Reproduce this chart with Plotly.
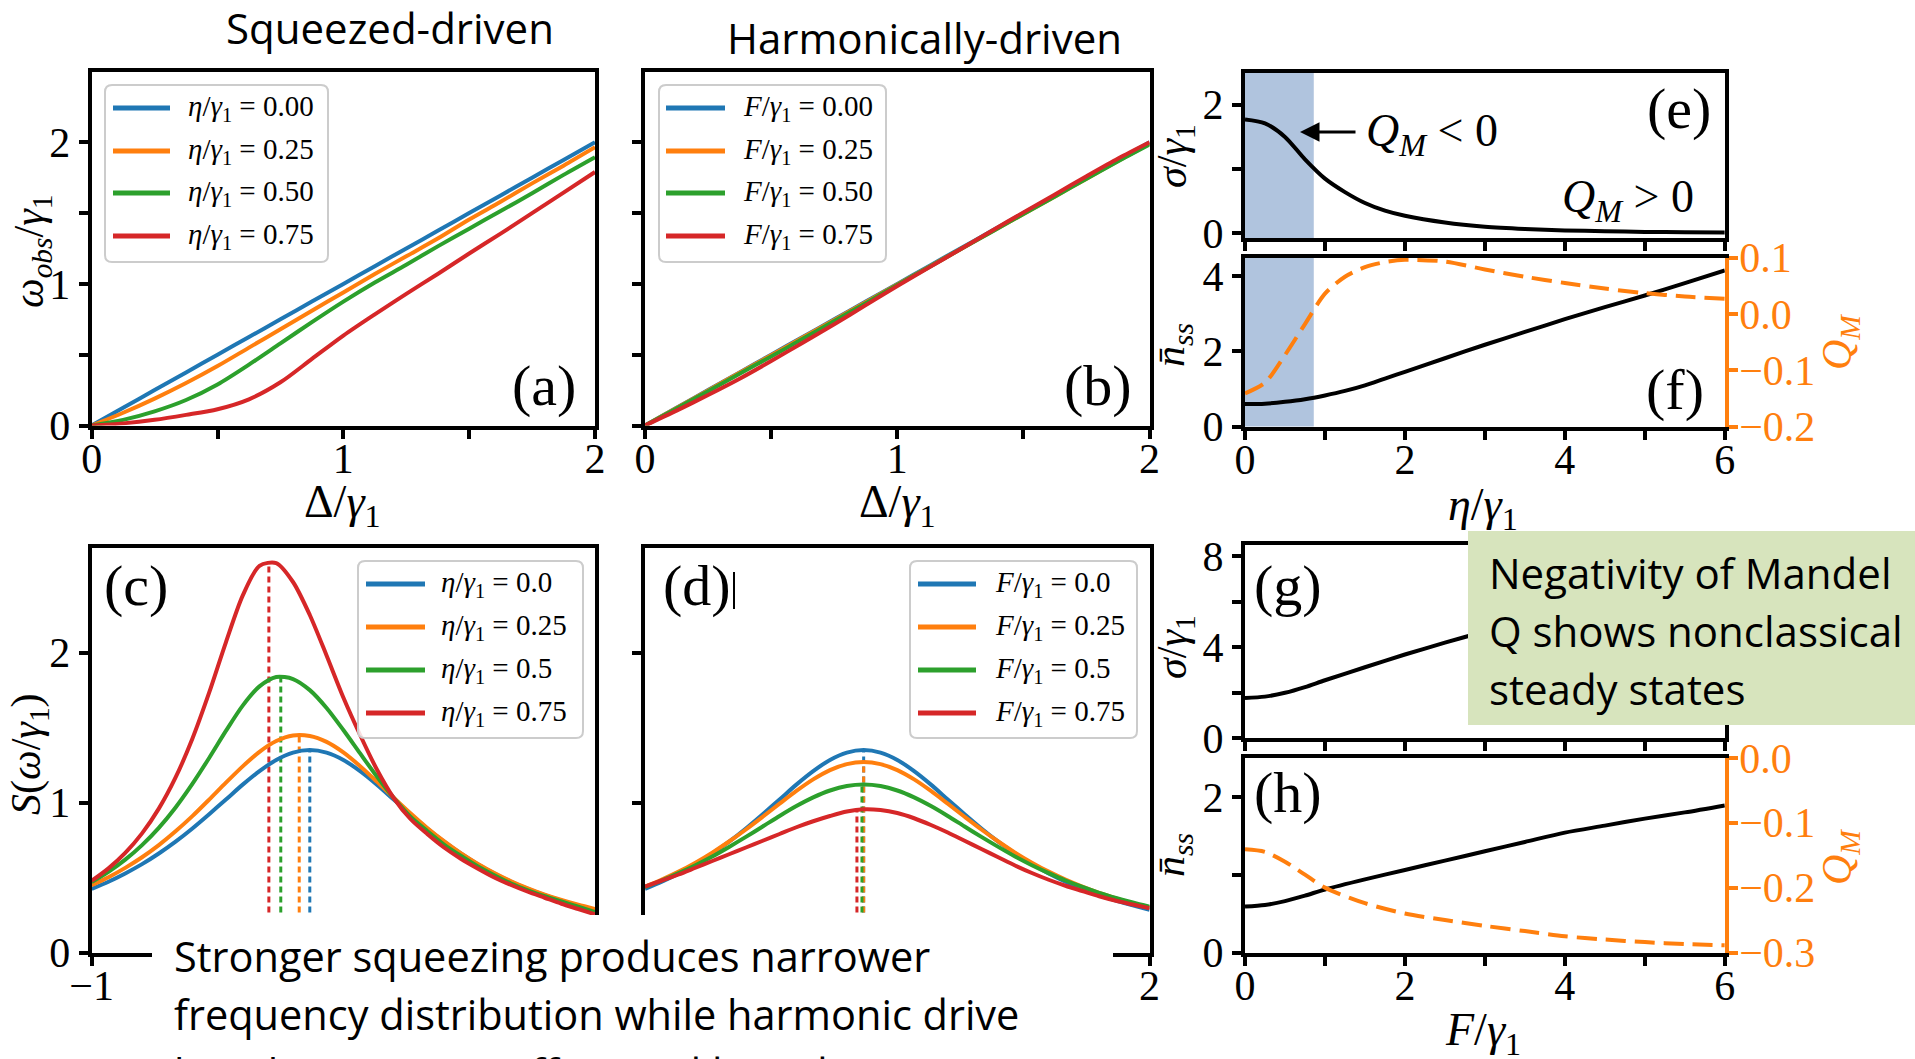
import plotly.graph_objects as go

W, H = 1915, 1059

# ------------------------------------------------------------------ data
# (a)/(b): observed frequency vs detuning
delta = [0.0, 0.125, 0.25, 0.375, 0.5, 0.625, 0.75, 0.875, 1.0,
         1.125, 1.25, 1.375, 1.5, 1.625, 1.75, 1.875, 2.0]
wobs_sq_000 = [0.0, 0.125, 0.25, 0.375, 0.5, 0.625, 0.75, 0.875, 1.0,
               1.125, 1.25, 1.375, 1.5, 1.625, 1.75, 1.875, 2.0]
wobs_sq_025 = [0.0, 0.09, 0.19, 0.30, 0.42, 0.55, 0.68, 0.81, 0.94,
               1.07, 1.195, 1.32, 1.455, 1.58, 1.71, 1.835, 1.965]
wobs_sq_050 = [0.0, 0.04, 0.10, 0.18, 0.29, 0.43, 0.58, 0.73, 0.875,
               1.01, 1.135, 1.265, 1.39, 1.515, 1.64, 1.77, 1.895]
wobs_sq_075 = [0.0, 0.015, 0.04, 0.075, 0.115, 0.185, 0.305, 0.47, 0.635,
               0.785, 0.93, 1.07, 1.215, 1.355, 1.50, 1.645, 1.79]
wobs_hd_000 = [0.0, 0.125, 0.25, 0.375, 0.5, 0.625, 0.75, 0.875, 1.0,
               1.125, 1.25, 1.375, 1.5, 1.625, 1.75, 1.875, 2.0]
wobs_hd_025 = [0.0, 0.124, 0.248, 0.372, 0.496, 0.621, 0.746, 0.871, 0.996,
               1.12, 1.245, 1.37, 1.494, 1.618, 1.743, 1.868, 1.99]
wobs_hd_050 = [0.0, 0.12, 0.242, 0.365, 0.488, 0.612, 0.738, 0.864, 0.992,
               1.118, 1.244, 1.369, 1.494, 1.618, 1.742, 1.866, 1.985]
wobs_hd_075 = [0.0, 0.105, 0.215, 0.33, 0.455, 0.585, 0.715, 0.85, 0.985,
               1.115, 1.245, 1.375, 1.505, 1.632, 1.76, 1.885, 2.0]

# (c)/(d): emission spectra
omega = [-1.0, -0.9, -0.8, -0.7, -0.6, -0.5, -0.4, -0.3, -0.2, -0.1, 0.0,
         0.1, 0.2, 0.3, 0.4, 0.5, 0.6, 0.7, 0.8, 0.9, 1.0,
         1.1, 1.2, 1.3, 1.4, 1.5, 1.6, 1.7, 1.8, 1.9, 2.0]
spec_00 = [0.424, 0.472, 0.527, 0.589, 0.660, 0.739, 0.827, 0.922, 1.020, 1.119, 1.209,
           1.284, 1.333, 1.350, 1.333, 1.284, 1.209, 1.119, 1.020, 0.922, 0.827,
           0.739, 0.660, 0.589, 0.527, 0.472, 0.424, 0.382, 0.346, 0.314, 0.285]
spec_sq_025 = [0.449, 0.502, 0.564, 0.635, 0.716, 0.808, 0.909, 1.019, 1.132, 1.241, 1.338,
               1.410, 1.447, 1.443, 1.404, 1.334, 1.242, 1.139, 1.032, 0.928, 0.830,
               0.742, 0.662, 0.592, 0.530, 0.475, 0.428, 0.386, 0.350, 0.318, 0.290]
spec_sq_050 = [0.470, 0.538, 0.619, 0.716, 0.831, 0.967, 1.124, 1.297, 1.477, 1.646, 1.774,
               1.837, 1.823, 1.749, 1.630, 1.483, 1.327, 1.173, 1.031, 0.905, 0.810,
               0.720, 0.645, 0.575, 0.515, 0.460, 0.415, 0.375, 0.340, 0.305, 0.270]
spec_sq_075 = [0.478, 0.561, 0.664, 0.794, 0.959, 1.167, 1.425, 1.732, 2.068, 2.379, 2.578,
               2.596, 2.470, 2.250, 1.980, 1.700, 1.450, 1.220, 1.030, 0.890, 0.790,
               0.700, 0.625, 0.560, 0.500, 0.450, 0.405, 0.365, 0.325, 0.290, 0.255]
spec_hd_025 = [0.439, 0.486, 0.539, 0.599, 0.666, 0.740, 0.820, 0.905, 0.992, 1.077, 1.154,
               1.216, 1.256, 1.270, 1.256, 1.216, 1.154, 1.077, 0.992, 0.905, 0.820,
               0.740, 0.666, 0.599, 0.539, 0.486, 0.439, 0.397, 0.361, 0.328, 0.300]
spec_hd_050 = [0.437, 0.480, 0.529, 0.582, 0.640, 0.704, 0.771, 0.840, 0.910, 0.976, 1.034,
               1.080, 1.110, 1.120, 1.110, 1.080, 1.034, 0.976, 0.910, 0.840, 0.771,
               0.704, 0.640, 0.582, 0.529, 0.480, 0.437, 0.398, 0.364, 0.333, 0.305]
spec_hd_075 = [0.440, 0.480, 0.520, 0.565, 0.610, 0.655, 0.700, 0.745, 0.790, 0.835, 0.875,
               0.910, 0.940, 0.955, 0.950, 0.930, 0.895, 0.850, 0.800, 0.745, 0.690,
               0.635, 0.580, 0.530, 0.485, 0.445, 0.410, 0.375, 0.345, 0.320, 0.295]
peak_sq_pos = [0.30, 0.237, 0.127, 0.056]
peak_hd_pos = [0.30, 0.30, 0.29, 0.26]

legend_ab = ["0.00", "0.25", "0.50", "0.75"]
legend_cd = ["0.0", "0.25", "0.5", "0.75"]

# (e)/(f): squeezed drive strength
eta = [0.0, 0.25, 0.5, 0.75, 1.0, 1.25, 1.5, 1.75, 2.0, 2.5, 3.0, 3.5, 4.0, 4.5, 5.0, 5.5, 6.0]
sigma_eta = [1.77, 1.71, 1.50, 1.15, 0.85, 0.64, 0.47, 0.35, 0.27, 0.165, 0.10,
             0.065, 0.043, 0.03, 0.02, 0.015, 0.01]
nss_eta = [0.60, 0.61, 0.66, 0.73, 0.83, 0.95, 1.10, 1.28, 1.46, 1.82, 2.18,
           2.52, 2.86, 3.18, 3.49, 3.82, 4.16]
qm_eta = [-0.141, -0.122, -0.073, -0.018, 0.036, 0.066, 0.083, 0.092, 0.096, 0.093, 0.079,
          0.066, 0.055, 0.045, 0.037, 0.031, 0.027]
qm_negative_until = 0.86

# (g)/(h): harmonic drive strength
force = [0.0, 0.25, 0.5, 0.75, 1.0, 1.5, 2.0, 2.5, 3.0, 3.5, 4.0, 4.5, 5.0, 5.5, 6.0]
sigma_force = [1.77, 1.83, 2.0, 2.25, 2.55, 3.12, 3.68, 4.2, 4.7, 5.2, 5.7, 6.2, 6.65, 7.1, 7.6]
nss_force = [0.59, 0.61, 0.66, 0.73, 0.81, 0.94, 1.06, 1.18, 1.30, 1.42, 1.54, 1.63, 1.72, 1.80, 1.89]
qm_force = [-0.141, -0.145, -0.160, -0.180, -0.200, -0.224, -0.240, -0.250, -0.259,
            -0.267, -0.275, -0.280, -0.284, -0.287, -0.289]

# ------------------------------------------------------------------ style
COLORS = ['#1f77b4', '#ff7f0e', '#2ca02c', '#d62728']
ORANGE = '#ff7f0e'
SHADE = '#b0c4de'
SERIF = 'Liberation Serif'
SANS = 'Open Sans'
TICK = dict(family=SERIF, size=42, color='black')


def px(x):
    return x / W


def py(y):
    return 1 - y / H


fig = go.Figure()


def curve(x, y, xa, ya, color, width=4, dash=None, spline=True):
    fig.add_trace(go.Scatter(
        x=x, y=y, mode='lines', xaxis=xa, yaxis=ya, showlegend=False, hoverinfo='skip',
        line=dict(color=color, width=width, dash=dash,
                  shape='spline' if spline else 'linear', smoothing=0.8)))


def axis(left_right, rng, tickvals, ticktext, anchor, labels=True, mirror=True,
         color='black', standoff=0):
    return dict(domain=list(left_right), range=rng, tickmode='array',
                tickvals=tickvals, ticktext=ticktext, showline=True, linecolor=color,
                linewidth=4, mirror=mirror, ticks='outside', ticklen=9, tickwidth=3.5,
                tickcolor=color, showgrid=False, zeroline=False, showticklabels=labels,
                tickfont=dict(TICK, color=color), anchor=anchor, fixedrange=True,
                automargin=False, ticklabelstandoff=standoff)


def xdom(l, r):
    return (px(l), px(r))


def ydom(top, bottom):
    return (py(bottom), py(top))


# ---- (a) squeezed-driven observed frequency
for vals, c in zip([wobs_sq_000, wobs_sq_025, wobs_sq_050, wobs_sq_075], COLORS):
    curve(delta, vals, 'x', 'y', c)
# ---- (b) harmonically-driven observed frequency
for vals, c in zip([wobs_hd_000, wobs_hd_025, wobs_hd_050, wobs_hd_075], COLORS):
    curve(delta, vals, 'x2', 'y2', c)

# ---- (c)/(d) spectra with dotted peak markers
for vals, pos, c in zip([spec_00, spec_sq_025, spec_sq_050, spec_sq_075], peak_sq_pos, COLORS):
    curve([pos, pos], [0, max(vals)], 'x3', 'y3', c, width=3, dash='6px,4px', spline=False)
for vals, c in zip([spec_00, spec_sq_025, spec_sq_050, spec_sq_075], COLORS):
    curve(omega, vals, 'x3', 'y3', c)
for vals, pos, c in zip([spec_00, spec_hd_025, spec_hd_050, spec_hd_075], peak_hd_pos, COLORS):
    curve([pos, pos], [0, max(vals)], 'x4', 'y4', c, width=3, dash='6px,4px', spline=False)
for vals, c in zip([spec_00, spec_hd_025, spec_hd_050, spec_hd_075], COLORS):
    curve(omega, vals, 'x4', 'y4', c)

# ---- (e)/(f)
curve(eta, sigma_eta, 'x5', 'y5', 'black')
curve(eta, nss_eta, 'x6', 'y6', 'black')
curve(eta, qm_eta, 'x6', 'y9', ORANGE, dash='20px,9px')
# ---- (g)/(h)
curve(force, sigma_force, 'x7', 'y7', 'black')
curve(force, nss_force, 'x8', 'y8', 'black')
curve(force, qm_force, 'x8', 'y10', ORANGE, dash='20px,9px')

# ---- axes
halves = [0, 0.5, 1, 1.5, 2]
halves_txt = ['0', '', '1', '', '2']
spec_x = [-1, -0.5, 0, 0.5, 1, 1.5, 2]
spec_c_txt = ['\u22121', '', '', '', '', '', '']   # the rest sit under the caption
spec_d_txt = ['', '', '', '', '', '', '2']
ints6 = [0, 1, 2, 3, 4, 5, 6]
ints6_txt = ['0', '', '2', '', '4', '', '6']
XS = -16   # pull bottom tick labels towards the axis

xa_ab, xb_ab = xdom(91.7, 595), xdom(645, 1149.6)
xr = xdom(1245, 1724.8)
layout_axes = dict(
    xaxis=axis(xa_ab, [0, 2], halves, halves_txt, 'y', standoff=XS),
    yaxis=axis(ydom(71.5, 425.5), [0, 2.5], halves, halves_txt, 'x'),
    xaxis2=axis(xb_ab, [0, 2], halves, halves_txt, 'y2', standoff=XS),
    yaxis2=axis(ydom(71.5, 425.5), [0, 2.5], halves, halves_txt, 'x2', labels=False),
    xaxis3=axis(xa_ab, [-1, 2], spec_x, spec_c_txt, 'y3', standoff=XS),
    yaxis3=axis(ydom(547.5, 952.5), [0, 2.7], [0, 1, 2], ['0', '1', '2'], 'x3'),
    xaxis4=axis(xb_ab, [-1, 2], spec_x, spec_d_txt, 'y4', standoff=XS),
    yaxis4=axis(ydom(547.5, 952.5), [0, 2.7], [0, 1, 2], ['0', '1', '2'], 'x4', labels=False),
    xaxis5=axis(xr, [0, 6], ints6, ints6_txt, 'y5', labels=False),
    yaxis5=axis(ydom(72.7, 238.3), [-0.08, 2.5], [0, 1, 2], ['0', '', '2'], 'x5'),
    xaxis6=axis(xr, [0, 6], ints6, ints6_txt, 'y6', standoff=XS),
    yaxis6=axis(ydom(257.6, 426.6), [0, 4.5], [0, 2, 4], ['0', '2', '4'], 'x6', mirror=False),
    xaxis7=axis(xr, [0, 6], ints6, ints6_txt, 'y7', labels=False),
    yaxis7=axis(ydom(544.8, 738.3), [0, 8.5], [0, 2, 4, 6, 8], ['0', '', '4', '', '8'], 'x7'),
    xaxis8=axis(xr, [0, 6], ints6, ints6_txt, 'y8', standoff=XS),
    yaxis8=axis(ydom(757.9, 952.5), [0, 2.5], [0, 1, 2], ['0', '', '2'], 'x8', mirror=False),
)
y9 = axis(ydom(257.6, 426.6), [-0.2, 0.1], [-0.2, -0.1, 0.0, 0.1],
          ['\u22120.2', '\u22120.1', '0.0', '0.1'], 'x6', mirror=False, color=ORANGE,
          standoff=-7)
y9.update(overlaying='y6', side='right')
y10 = axis(ydom(757.9, 952.5), [-0.3, 0.0], [-0.3, -0.2, -0.1, 0.0],
           ['\u22120.3', '\u22120.2', '\u22120.1', '0.0'], 'x8', mirror=False, color=ORANGE,
           standoff=-7)
y10.update(overlaying='y8', side='right')
layout_axes['yaxis9'] = y9
layout_axes['yaxis10'] = y10

# ---- shaded region where the Mandel Q is negative
for xa, ya in [('x5', 'y5'), ('x6', 'y6')]:
    fig.add_shape(type='rect', xref=xa, yref=ya + ' domain', x0=0, x1=qm_negative_until,
                  y0=0, y1=1, fillcolor=SHADE, line=dict(width=0), layer='below')


# ---- annotations helper
def text(x, y, s, size, family=SERIF, color='black', xanchor='center', angle=0, yanchor='middle'):
    fig.add_annotation(x=px(x), y=py(y), xref='paper', yref='paper', text=s, showarrow=False,
                       font=dict(family=family, size=size, color=color), xanchor=xanchor,
                       yanchor=yanchor, textangle=angle)


# ---- legends
def legend(box, rows, lx, tx, prefix, labels):
    x0, y0, x1, y1 = box
    r = 7
    path = (f"M {px(x0 + r)},{py(y0)} L {px(x1 - r)},{py(y0)} Q {px(x1)},{py(y0)} {px(x1)},{py(y0 + r)} "
            f"L {px(x1)},{py(y1 - r)} Q {px(x1)},{py(y1)} {px(x1 - r)},{py(y1)} "
            f"L {px(x0 + r)},{py(y1)} Q {px(x0)},{py(y1)} {px(x0)},{py(y1 - r)} "
            f"L {px(x0)},{py(y0 + r)} Q {px(x0)},{py(y0)} {px(x0 + r)},{py(y0)} Z")
    fig.add_shape(type='path', path=path, xref='paper', yref='paper',
                  fillcolor='rgba(255,255,255,0.85)', line=dict(color='#cccccc', width=2),
                  layer='above')
    for yy, c, lab in zip(rows, COLORS, labels):
        fig.add_shape(type='line', xref='paper', yref='paper', x0=px(lx[0]), x1=px(lx[1]),
                      y0=py(yy), y1=py(yy), line=dict(color=c, width=5), layer='above')
        text(tx, yy, prefix + ' = ' + lab, 29, xanchor='left')


ETA = '<i>η</i>/<i>γ</i><sub>1</sub>'
FF = '<i>F</i>/<i>γ</i><sub>1</sub>'
legend((105, 85, 328, 262), [108, 151, 193, 236], (113, 170), 186, ETA, legend_ab)
legend((659, 85, 886, 262), [108, 151, 193, 236], (666, 725), 741, FF, legend_ab)
legend((358, 561, 583, 738), [584, 627, 670, 713], (366, 425), 439, ETA, legend_cd)
legend((910, 561, 1137, 738), [584, 627, 670, 713], (918, 976), 993, FF, legend_cd)

# ---- panel letters
for lab, x, y in [('(a)', 544, 386), ('(b)', 1098, 386), ('(c)', 136, 585), ('(d)', 697, 585),
                  ('(e)', 1679, 108), ('(f)', 1675, 389), ('(g)', 1288, 585), ('(h)', 1288, 792)]:
    text(x, y, lab, 58)
fig.add_shape(type='line', xref='paper', yref='paper', x0=px(734), x1=px(734),
              y0=py(572), y1=py(609), line=dict(color='black', width=2), layer='above')

# ---- axis titles
GAM = '/<i>γ</i><sub>1</sub>'
TS, TY = 46, 42
text(342, 505, 'Δ' + GAM, TS)
text(897, 505, 'Δ' + GAM, TS)
text(1483, 508, '<i>η</i>' + GAM, TS)
text(1483, 1033, '<i>F</i>' + GAM, TS)
text(32, 252, '<i>ω</i><sub><i>obs</i></sub>' + GAM, TY, angle=-90)
text(29, 754, '<i>S</i>(<i>ω</i>' + GAM + ')', TY, angle=-90)
text(1175, 156, '<i>σ</i>' + GAM, TY, angle=-90)
text(1173, 345, '<i>n\u0304</i><sub><i>ss</i></sub>', TY, angle=-90)
text(1175, 647, '<i>σ</i>' + GAM, TY, angle=-90)
text(1173, 855, '<i>n\u0304</i><sub><i>ss</i></sub>', TY, angle=-90)
text(1840, 342, '<i>Q</i><sub><i>M</i></sub>', TY, color=ORANGE, angle=-90)
text(1840, 857, '<i>Q</i><sub><i>M</i></sub>', TY, color=ORANGE, angle=-90)

# ---- Q_M regime notes in (e)
fig.add_annotation(x=px(1300), y=py(132), xref='paper', yref='paper', text='', showarrow=True,
                   ax=57, ay=0, axref='pixel', ayref='pixel', arrowhead=2, arrowsize=1.3,
                   arrowwidth=3, arrowcolor='black')
text(1364, 134, '<i>Q</i><sub><i>M</i></sub> < 0', 46, xanchor='left')
text(1560, 200, '<i>Q</i><sub><i>M</i></sub> > 0', 46, xanchor='left')

# ---- column titles
text(390, 27, 'Squeezed-driven', 42, family=SANS)
text(924, 37, 'Harmonically-driven', 42, family=SANS)

# ---- caption box over the lower panels
fig.add_shape(type='rect', xref='paper', yref='paper', x0=px(152), x1=px(1113),
              y0=py(1065), y1=py(915), fillcolor='white', line=dict(width=0), layer='above')
text(172, 956, 'Stronger squeezing produces narrower', 41.5, family=SANS, xanchor='left')
text(172, 1014, 'frequency distribution while harmonic drive', 41.5, family=SANS, xanchor='left')
text(172, 1073, 'has the opposite effect and broadens it', 41.5, family=SANS, xanchor='left')

# ---- highlighted note
fig.add_shape(type='rect', xref='paper', yref='paper', x0=px(1468), x1=px(1920),
              y0=py(725), y1=py(531), fillcolor='#d7e4bd', line=dict(width=0), layer='above')
text(1487, 572, 'Negativity of Mandel', 42, family=SANS, xanchor='left')
text(1487, 630, 'Q shows nonclassical', 42, family=SANS, xanchor='left')
text(1487, 688, 'steady states', 42, family=SANS, xanchor='left')

fig.update_layout(width=W, height=H, margin=dict(l=0, r=0, t=0, b=0),
                  paper_bgcolor='white', plot_bgcolor='white', showlegend=False,
                  **layout_axes)
fig.write_html("out.html")
